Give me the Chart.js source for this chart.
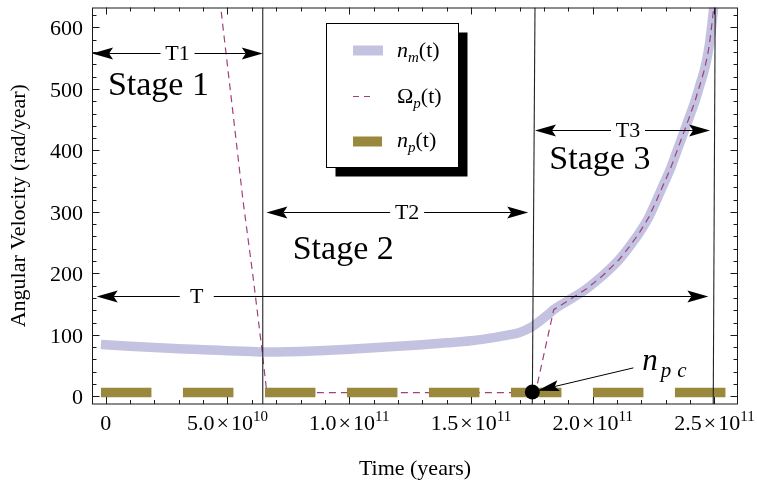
<!DOCTYPE html>
<html>
<head>
<meta charset="utf-8">
<title>Angular velocity stages</title>
<script src="https://cdn.jsdelivr.net/npm/chart.js@4"></script>
<style>
  body { margin: 0; background: #fff; }
  canvas { display: block; }
</style>
</head>
<body>
<canvas id="velocity" width="757" height="487"></canvas>
<script>
'use strict';

var SERIF = "'Liberation Serif', 'Times New Roman', serif";
var TIME_UNIT = 1e10; // all times below are in units of 1e10 years

// n_m(t): thick lavender curve
var nmTime  = [0, 1, 2, 3, 4, 5, 6, 6.5, 7, 8, 9, 10, 11, 12, 13, 14, 15, 16, 16.5, 17,
               17.5, 17.75, 18, 18.2, 18.4, 19, 19.75, 20.4, 21.1, 21.5, 21.9, 22.3, 22.6, 22.9,
               23.2, 23.45, 23.7, 23.95, 24.2, 24.4, 24.6, 24.75, 24.85, 24.95];
var nmValue = [84, 81.5, 79.3, 77.4, 75.8, 74.3, 72.8, 72, 72.2, 73, 74.5, 76.5, 79, 81.5, 84, 87, 90.5, 96, 99.5, 104,
               113, 120, 128, 134, 141, 156, 175, 196, 223, 243, 265, 291, 317, 344,
               371, 398, 425, 452, 480, 506, 533, 562, 590, 625];

// Omega_p(t): thin dashed curve
var omegaTime  = [4.7, 4.76, 5.2, 5.64, 6.05, 6.42, 6.6, 6.75, 17.65, 18.4, 19, 19.75, 20.4, 21.1, 21.5,
                  21.9, 22.3, 22.6, 22.9, 23.2, 23.45, 23.7, 23.95, 24.2, 24.4, 24.6, 24.75, 24.85, 24.95, 25.02];
var omegaValue = [645, 620, 470, 318, 195, 75, 12, 6, 6, 141, 156, 175, 196, 223, 243,
                  265, 291, 317, 344, 371, 398, 425, 452, 480, 506, 533, 562, 590, 625, 650];

// n_p(t): constant, thick dashed
var npTime  = [0, 26];
var npValue = [6.2, 6.2];

// stage boundaries (time at bottom and at top of the frame)
var boundaryBottom = [6.45, 17.52, 24.95];
var boundaryTop    = [6.45, 17.63, 25.03];

// critical point n_pc
var npcTime = 17.52;
var npcValue = 7;

// interval arrows
var spanLabels = ['T', 'T1', 'T2', 'T3'];
var spanStart  = [-0.37, -0.56, 6.6, 17.63];
var spanEnd    = [24.75, 6.45, 17.35, 24.82];
var spanLevel  = [164, 557.6, 300, 433];
var spanLabelAt = [3.74, 2.95, 12.38, 21.45];

// stage captions (left edge time, baseline value)
var stageLabels = ['Stage 1', 'Stage 2', 'Stage 3'];
var stageTime   = [0.09, 7.68, 18.22];
var stageValue  = [490, 223.5, 369];

// axis ticks
var xTickValues   = [0, 5, 10, 15, 20, 25];
var xTickMantissa = ['0', '5.0', '1.0', '1.5', '2.0', '2.5'];
var xTickExponent = ['', '10', '11', '11', '11', '11'];
var yTickValues   = [0, 100, 200, 300, 400, 500, 600];

var X_MIN = -0.5626, X_MAX = 25.967;
var Y_MIN = -12.44, Y_MAX = 632.4;

var NM_COLOR = '#c3c3e1';
var OMEGA_COLOR = '#a0417a';
var NP_COLOR = '#9a893d';

function toPoints(times, values) {
  return times.map(function (t, i) { return { x: t * TIME_UNIT, y: values[i] }; });
}

function boundaryDataset(i) {
  return {
    data: [{ x: boundaryBottom[i] * TIME_UNIT, y: Y_MIN }, { x: boundaryTop[i] * TIME_UNIT, y: Y_MAX }],
    borderColor: '#222', borderWidth: 1.1, order: 2, clip: 0
  };
}

function font(size, italic) {
  return (italic ? 'italic ' : '') + size + 'px ' + SERIF;
}

function drawRuns(ctx, runs, x, y) {
  runs.forEach(function (r) {
    ctx.font = font(r.size, r.italic);
    ctx.fillText(r.text, x + (r.dx || 0), y + (r.dy || 0));
    x += ctx.measureText(r.text).width + (r.dx || 0);
  });
  return x;
}

function runsWidth(ctx, runs) {
  var w = 0;
  runs.forEach(function (r) {
    ctx.font = font(r.size, r.italic);
    w += ctx.measureText(r.text).width + (r.dx || 0);
  });
  return w;
}

function arrowTo(ctx, x1, y1, x2, y2, len, half) {
  var ang = Math.atan2(y2 - y1, x2 - x1);
  var notch = 4;
  ctx.beginPath();
  ctx.moveTo(x1, y1);
  ctx.lineTo(x2 - Math.cos(ang) * (len - notch), y2 - Math.sin(ang) * (len - notch));
  ctx.stroke();
  ctx.save();
  ctx.translate(x2, y2);
  ctx.rotate(ang);
  ctx.beginPath();
  ctx.moveTo(0, 0);
  ctx.lineTo(-len, -half);
  ctx.lineTo(-len + notch, 0);
  ctx.lineTo(-len, half);
  ctx.closePath();
  ctx.fill();
  ctx.restore();
}

// frame with inward ticks on all four sides, tick labels, axis titles
var framePlugin = {
  id: 'frame',
  afterDatasetsDraw: function (chart) {
    var ctx = chart.ctx, a = chart.chartArea;
    var xs = chart.scales.x, ys = chart.scales.y;
    ctx.save();
    ctx.strokeStyle = '#1a1a1a';
    ctx.lineWidth = 1;
    ctx.strokeRect(a.left + 0.5, a.top + 0.5, a.right - a.left - 1, a.bottom - a.top - 0.5);

    ctx.beginPath();
    for (var t = 0; t <= 25; t++) {
      var px = Math.round(xs.getPixelForValue(t * TIME_UNIT)) + 0.5;
      var len = (t % 5 === 0) ? 7 : 4;
      ctx.moveTo(px, a.bottom); ctx.lineTo(px, a.bottom - len);
      ctx.moveTo(px, a.top); ctx.lineTo(px, a.top + len);
    }
    for (var v = 0; v <= 620; v += 20) {
      var py = Math.round(ys.getPixelForValue(v)) + 0.5;
      var l2 = (v % 100 === 0) ? 7.5 : 4.5;
      ctx.moveTo(a.left, py); ctx.lineTo(a.left + l2, py);
      ctx.moveTo(a.right, py); ctx.lineTo(a.right - l2, py);
    }
    ctx.stroke();

    ctx.fillStyle = '#000';
    ctx.textBaseline = 'alphabetic';
    // y tick labels
    ctx.textAlign = 'right';
    ctx.font = font(22);
    yTickValues.forEach(function (v) {
      ctx.fillText(String(v), 83, ys.getPixelForValue(v) + 8);
    });
    // x tick labels with powers of ten
    ctx.textAlign = 'left';
    xTickValues.forEach(function (t, i) {
      var runs = [{ text: xTickMantissa[i], size: 22 }];
      if (xTickExponent[i]) {
        runs.push({ text: '\u00d7', size: 22, dx: 2 });
        runs.push({ text: '10', size: 22, dx: 2 });
        runs.push({ text: xTickExponent[i], size: 15, dy: -9 });
      }
      var cx = xs.getPixelForValue(t * TIME_UNIT);
      drawRuns(ctx, runs, cx - runsWidth(ctx, runs) / 2, 430);
    });
    // axis titles
    ctx.textAlign = 'center';
    ctx.font = font(22);
    ctx.fillText('Time (years)', (a.left + a.right) / 2, 475);
    ctx.save();
    ctx.translate(25, (a.top + a.bottom) / 2);
    ctx.rotate(-Math.PI / 2);
    ctx.fillText('Angular Velocity (rad/year)', 0, 0);
    ctx.restore();
    ctx.restore();
  }
};

// interval arrows, stage captions, n_pc label and legend
var annotationPlugin = {
  id: 'annotations',
  afterDraw: function (chart) {
    var ctx = chart.ctx;
    var xs = chart.scales.x, ys = chart.scales.y;
    function X(t) { return xs.getPixelForValue(t * TIME_UNIT); }
    function Y(v) { return ys.getPixelForValue(v); }
    ctx.save();
    ctx.strokeStyle = '#000';
    ctx.fillStyle = '#000';
    ctx.lineWidth = 1;

    spanLabels.forEach(function (label, i) {
      var y = Math.round(Y(spanLevel[i])) + 0.5;
      var cx = X(spanLabelAt[i]);
      ctx.font = font(22);
      var w = ctx.measureText(label).width;
      var gap = Math.max(w + 8, 34) / 2;
      arrowTo(ctx, cx - gap, y, X(spanStart[i]), y, 21, 6);
      arrowTo(ctx, cx + gap, y, X(spanEnd[i]), y, 21, 6);
      ctx.textAlign = 'center';
      ctx.textBaseline = 'middle';
      ctx.fillText(label, cx, y + 1);
    });

    ctx.textAlign = 'left';
    ctx.textBaseline = 'alphabetic';
    ctx.font = font(34);
    stageLabels.forEach(function (label, i) {
      ctx.fillText(label, X(stageTime[i]), Y(stageValue[i]));
    });

    // n_pc
    arrowTo(ctx, X(21.67), Y(46.3), X(17.72), Y(9.3), 22, 5.5);
    drawRuns(ctx, [
      { text: 'n', size: 31, italic: true },
      { text: 'p', size: 21, italic: true, dy: 7, dx: 3 },
      { text: 'c', size: 21, italic: true, dy: 7, dx: 6 }
    ], X(22.03), Y(42.6));

    // legend with drop shadow
    var lx = 326.5, ly = 23.5, lw = 132, lh = 144;
    ctx.fillStyle = '#000';
    ctx.fillRect(lx + 9, ly + 9, lw, lh);
    ctx.fillStyle = '#fff';
    ctx.fillRect(lx, ly, lw, lh);
    ctx.strokeRect(lx, ly, lw, lh);

    ctx.fillStyle = NM_COLOR;
    ctx.fillRect(353, 45.5, 30, 10);
    ctx.strokeStyle = OMEGA_COLOR;
    ctx.lineWidth = 1.2;
    ctx.setLineDash([6, 5]);
    ctx.beginPath(); ctx.moveTo(353, 96.5); ctx.lineTo(374, 96.5); ctx.stroke();
    ctx.setLineDash([]);
    ctx.fillStyle = NP_COLOR;
    ctx.fillRect(353, 136.5, 29, 10);

    ctx.fillStyle = '#000';
    drawRuns(ctx, [{ text: 'n', size: 22, italic: true }, { text: 'm', size: 15, italic: true, dy: 5 }, { text: '(t)', size: 22 }], 397, 57);
    drawRuns(ctx, [{ text: '\u03a9', size: 22 }, { text: 'p', size: 15, italic: true, dy: 5 }, { text: '(t)', size: 22 }], 397, 102.5);
    drawRuns(ctx, [{ text: 'n', size: 22, italic: true }, { text: 'p', size: 15, italic: true, dy: 5 }, { text: '(t)', size: 22 }], 397, 147);
    ctx.restore();
  }
};

var ctx = document.getElementById('velocity');
var velocityChart = new Chart(ctx, {
  type: 'line',
  data: {
    datasets: [
      {
        label: 'n_m(t)',
        data: toPoints(nmTime, nmValue),
        borderColor: NM_COLOR,
        borderWidth: 9.5,
        borderCapStyle: 'square',
        borderJoinStyle: 'round',
        cubicInterpolationMode: 'monotone',
        order: 5,
        clip: 0
      },
      {
        label: 'Omega_p(t)',
        data: toPoints(omegaTime, omegaValue),
        borderColor: OMEGA_COLOR,
        borderWidth: 1.2,
        borderDash: [7, 5],
        order: 4,
        clip: 0
      },
      {
        label: 'n_p(t)',
        data: toPoints(npTime, npValue),
        borderColor: NP_COLOR,
        borderWidth: 9.5,
        borderDash: [41, 41],
        borderCapStyle: 'square',
        order: 3,
        clip: 0
      },
      boundaryDataset(0),
      boundaryDataset(1),
      boundaryDataset(2),
      {
        label: 'n_pc',
        data: [{ x: npcTime * TIME_UNIT, y: npcValue }],
        showLine: false,
        pointRadius: 7.5,
        pointBackgroundColor: '#000',
        pointBorderWidth: 0,
        order: 1,
        clip: false
      }
    ]
  },
  options: {
    responsive: false,
    animation: false,
    events: [],
    layout: { padding: { left: 92, right: 19, top: 5, bottom: 83 } },
    elements: { point: { radius: 0 }, line: { tension: 0 } },
    plugins: { legend: { display: false }, tooltip: { enabled: false } },
    scales: {
      x: { type: 'linear', min: X_MIN * TIME_UNIT, max: X_MAX * TIME_UNIT, display: false },
      y: { type: 'linear', min: Y_MIN, max: Y_MAX, display: false }
    }
  },
  plugins: [framePlugin, annotationPlugin]
});
</script>
</body>
</html>
